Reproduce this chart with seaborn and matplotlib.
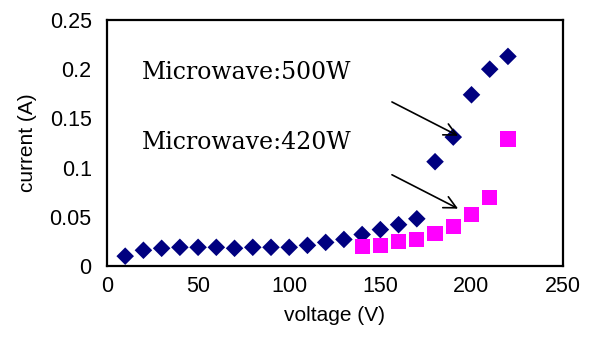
import matplotlib
matplotlib.use("Agg")
import matplotlib.pyplot as plt
import seaborn as sns
import pandas as pd

# data
voltage_500 = [10, 20, 30, 40, 50, 60, 70, 80, 90, 100, 110, 120, 130, 140, 150,
               160, 170, 180, 190, 200, 210, 220]
current_500 = [0.010, 0.016, 0.018, 0.019, 0.019, 0.019, 0.018, 0.019, 0.019, 0.019,
               0.021, 0.024, 0.027, 0.032, 0.037, 0.042, 0.048, 0.106, 0.131, 0.174,
               0.200, 0.213]
voltage_420 = [140, 150, 160, 170, 180, 190, 200, 210, 220]
current_420 = [0.020, 0.021, 0.025, 0.027, 0.033, 0.040, 0.052, 0.070, 0.129]

x_ticks = [0, 50, 100, 150, 200, 250]
y_ticks = [0, 0.05, 0.1, 0.15, 0.2, 0.25]
y_tick_labels = ["0", "0.05", "0.1", "0.15", "0.2", "0.25"]

df500 = pd.DataFrame({"voltage": voltage_500, "current": current_500})
df420 = pd.DataFrame({"voltage": voltage_420, "current": current_420})

sns.set_style("white")
plt.rcParams["font.family"] = ["Liberation Sans", "DejaVu Sans"]
plt.rcParams["text.color"] = "black"
plt.rcParams["axes.labelcolor"] = "black"

fig = plt.figure(figsize=(5.91, 3.47), dpi=100)
ax = fig.add_axes([0.181, 0.2334, 0.771, 0.709])

sns.scatterplot(data=df500, x="voltage", y="current", ax=ax, marker="D", s=80,
                color="#000080", edgecolor="none", zorder=3)
sns.scatterplot(data=df420, x="voltage", y="current", ax=ax, marker="s", s=120,
                color="#FF00FF", edgecolor="none", zorder=3)

ax.set_xlim(0, 250)
ax.set_ylim(0, 0.25)
ax.set_xticks(x_ticks)
ax.set_yticks(y_ticks)
ax.set_yticklabels(y_tick_labels)
ax.tick_params(direction="in", length=5, width=1.2, labelsize=15.5, pad=7,
               colors="black")
ax.tick_params(axis="y", pad=11)
ax.set_xlabel("voltage (V)", fontsize=15, labelpad=7)
ax.set_ylabel("current (A)", fontsize=15, labelpad=9)
for sp in ax.spines.values():
    sp.set_visible(True)
    sp.set_color("black")
    sp.set_linewidth(1.6)

serif = ["DejaVu Serif"]
ax.text(19, 0.197, "Microwave:500W", fontsize=17, family=serif, va="center",
        color="black")
ax.text(19, 0.125, "Microwave:420W", fontsize=17, family=serif, va="center",
        color="black")

arrow = dict(arrowstyle="->", color="black", lw=1.2, mutation_scale=22)
ax.annotate("", xy=(194, 0.131), xytext=(155, 0.168), arrowprops=arrow)
ax.annotate("", xy=(194, 0.057), xytext=(155, 0.094), arrowprops=arrow)

ax.get_legend() and ax.get_legend().remove()
fig.savefig("out.png", dpi=100)
